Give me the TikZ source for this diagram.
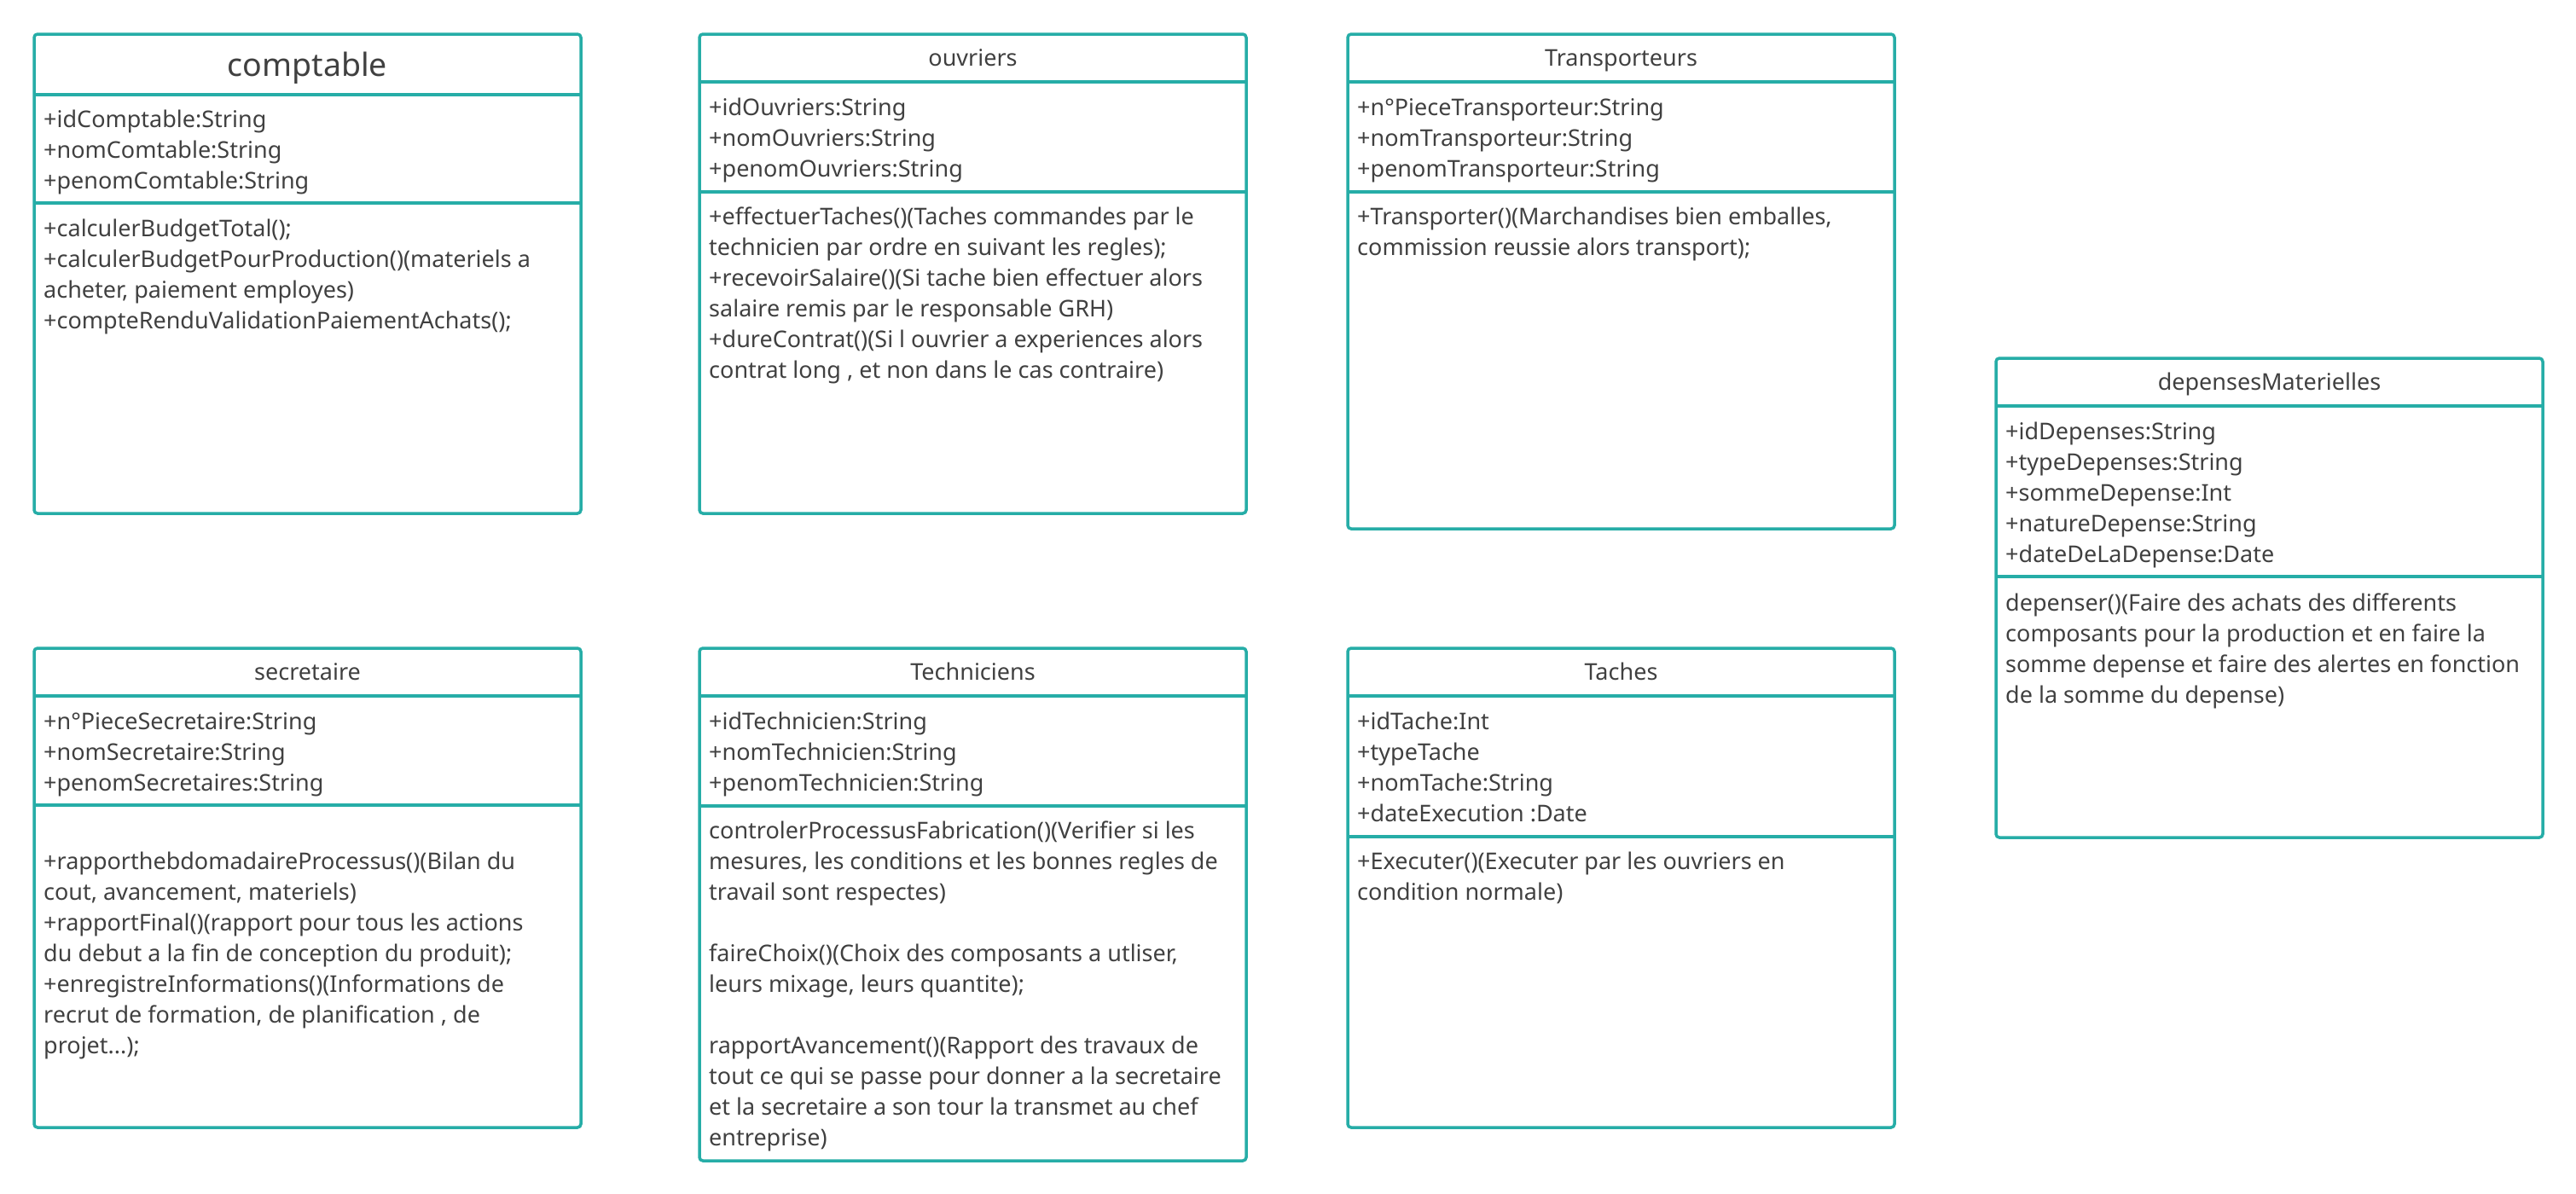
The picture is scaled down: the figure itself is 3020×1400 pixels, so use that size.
\documentclass[tikz,border=0pt]{standalone}
\usepackage{fontspec}
\setmainfont{Noto Sans}
\definecolor{teal1}{RGB}{38,173,167}
\definecolor{ink}{RGB}{64,64,64}
\tikzset{
  classbox/.style={draw=teal1, line width=3.5pt, rounded corners=4pt, minimum width=641pt, minimum height=#1, anchor=north west, outer sep=0pt, inner sep=0pt},
  sepline/.style={draw=teal1, line width=3.5pt},
  ttl/.style={font=\fontsize{27}{36}\selectfont, text=ink, anchor=base, inner sep=0pt},
  bigttl/.style={font=\fontsize{37.5}{44}\selectfont, text=ink, anchor=base, inner sep=0pt},
  txt/.style={font=\fontsize{27}{36}\selectfont, text=ink, anchor=base west, inner sep=0pt},
}
\newcommand{\lines}[1]{\parbox[t]{625pt}{\raggedright #1}}
\begin{document}
\begin{tikzpicture}[x=1pt,y=-1pt]
\useasboundingbox (0,0) rectangle (3020,1400);
\fill[white] (0,0) rectangle (3020,1400);

% ---- comptable
\node[classbox=562pt] (comptable) at (40,40) {};
\draw[sepline] (comptable.north west) ++(0,71) -- ++(641,0);
\draw[sepline] (comptable.north west) ++(0,198) -- ++(641,0);
\node[bigttl] (comptableT) at (360.5,89) {comptable};
\node[txt] (comptableA) at (51,149) {\lines{+idComptable:String\\+nomComtable:String\\+penomComtable:String}};
\node[txt] (comptableM) at (51,277) {\lines{+calculerBudgetTotal();\\+calculerBudgetPourProduction()(materiels a\\acheter, paiement employes)\\+compteRenduValidationPaiementAchats();}};

% ---- ouvriers
\node[classbox=562pt] (ouvriers) at (820,40) {};
\draw[sepline] (ouvriers.north west) ++(0,56) -- ++(641,0);
\draw[sepline] (ouvriers.north west) ++(0,185) -- ++(641,0);
\node[ttl] (ouvriersT) at (1140.5,77) {ouvriers};
\node[txt] (ouvriersA) at (831,135) {\lines{+idOuvriers:String\\+nomOuvriers:String\\+penomOuvriers:String}};
\node[txt] (ouvriersM) at (831,263) {\lines{+effectuerTaches()(Taches commandes par le\\technicien par ordre en suivant les regles);\\+recevoirSalaire()(Si tache bien effectuer alors\\salaire remis par le responsable GRH)\\+dureContrat()(Si l ouvrier a experiences alors\\contrat long , et non dans le cas contraire)}};

% ---- Transporteurs
\node[classbox=580pt] (transp) at (1580,40) {};
\draw[sepline] (transp.north west) ++(0,56) -- ++(641,0);
\draw[sepline] (transp.north west) ++(0,185) -- ++(641,0);
\node[ttl] (transpT) at (1900.5,77) {Transporteurs};
\node[txt] (transpA) at (1591,135) {\lines{+n°PieceTransporteur:String\\+nomTransporteur:String\\+penomTransporteur:String}};
\node[txt] (transpM) at (1591,263) {\lines{+Transporter()(Marchandises bien emballes,\\commission reussie alors transport);}};

% ---- depensesMaterielles
\node[classbox=562pt] (depenses) at (2340,420) {};
\draw[sepline] (depenses.north west) ++(0,56) -- ++(641,0);
\draw[sepline] (depenses.north west) ++(0,256) -- ++(641,0);
\node[ttl] (depensesT) at (2660.5,457) {depensesMaterielles};
\node[txt] (depensesA) at (2351,515) {\lines{+idDepenses:String\\+typeDepenses:String\\+sommeDepense:Int\\+natureDepense:String\\+dateDeLaDepense:Date}};
\node[txt] (depensesM) at (2351,716) {\lines{depenser()(Faire des achats des differents\\composants pour la production et en faire la\\somme depense et faire des alertes en fonction\\de la somme du depense)}};

% ---- secretaire
\node[classbox=562pt] (secretaire) at (40,760) {};
\draw[sepline] (secretaire.north west) ++(0,56) -- ++(641,0);
\draw[sepline] (secretaire.north west) ++(0,184) -- ++(641,0);
\node[ttl] (secretaireT) at (360.5,797) {secretaire};
\node[txt] (secretaireA) at (51,855) {\lines{+n°PieceSecretaire:String\\+nomSecretaire:String\\+penomSecretaires:String}};
\node[txt] (secretaireM) at (51,1019) {\lines{+rapporthebdomadaireProcessus()(Bilan du\\cout, avancement, materiels)\\+rapportFinal()(rapport pour tous les actions\\du debut a la fin de conception du produit);\\+enregistreInformations()(Informations de\\recrut de formation, de planification , de\\projet...);}};

% ---- Techniciens
\node[classbox=601pt] (techniciens) at (820,760) {};
\draw[sepline] (techniciens.north west) ++(0,56) -- ++(641,0);
\draw[sepline] (techniciens.north west) ++(0,185) -- ++(641,0);
\node[ttl] (techniciensT) at (1140.5,797) {Techniciens};
\node[txt] (techniciensA) at (831,855) {\lines{+idTechnicien:String\\+nomTechnicien:String\\+penomTechnicien:String}};
\node[txt] (techniciensM) at (831,983) {\lines{controlerProcessusFabrication()(Verifier si les\\mesures, les conditions et les bonnes regles de\\travail sont respectes)\\[36pt]faireChoix()(Choix des composants a utliser,\\leurs mixage, leurs quantite);\\[36pt]rapportAvancement()(Rapport des travaux de\\tout ce qui se passe pour donner a la secretaire\\et la secretaire a son tour la transmet au chef\\entreprise)}};

% ---- Taches
\node[classbox=562pt] (taches) at (1580,760) {};
\draw[sepline] (taches.north west) ++(0,56) -- ++(641,0);
\draw[sepline] (taches.north west) ++(0,221) -- ++(641,0);
\node[ttl] (tachesT) at (1900.5,797) {Taches};
\node[txt] (tachesA) at (1591,855) {\lines{+idTache:Int\\+typeTache\\+nomTache:String\\+dateExecution :Date}};
\node[txt] (tachesM) at (1591,1019) {\lines{+Executer()(Executer par les ouvriers en\\condition normale)}};
\end{tikzpicture}
\end{document}
